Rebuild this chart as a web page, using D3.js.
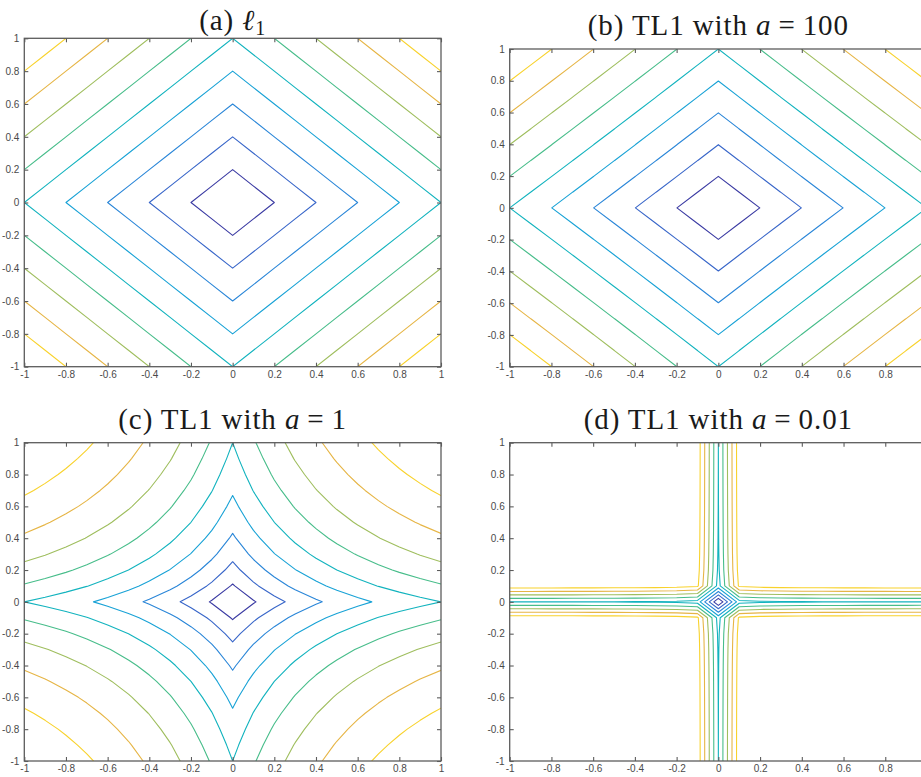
<!DOCTYPE html>
<html>
<head>
<meta charset="utf-8">
<script src="https://cdn.jsdelivr.net/npm/d3@7"></script>
<style>
  body { margin: 0; background: #fff; }
  svg { display: block; }
</style>
</head>
<body>
<div id="chart"></div>
<script>
// contour levels (same for every panel)
const levels = [0.2, 0.4, 0.6, 0.8, 1.0, 1.2, 1.4, 1.6, 1.8];
// parameter a of each panel, null = plain l1 norm
const a_values = [null, 100, 1, 0.01];
const panel_letters = ["a", "b", "c", "d"];
const a_labels = ["", "100", "1", "0.01"];
// sample points of the grid the contours are taken from
const grid_points = [-1, -0.9, -0.8, -0.7, -0.6, -0.5, -0.4, -0.3, -0.2, -0.1, 0,
                     0.1, 0.2, 0.3, 0.4, 0.5, 0.6, 0.7, 0.8, 0.9, 1];
const tick_values = [-1, -0.8, -0.6, -0.4, -0.2, 0, 0.2, 0.4, 0.6, 0.8, 1];
const tick_labels = ["-1", "-0.8", "-0.6", "-0.4", "-0.2", "0", "0.2", "0.4", "0.6", "0.8", "1"];

// parula-like colours, one per level
const level_colors = ["#3b3ba3", "#3866c9", "#2a86d8", "#18a2d6", "#12b3be",
                      "#47bd8a", "#9fbe5e", "#e6b545", "#f8d22c"];

function drawChart() {
    const div_id = "#chart";
    const width = 921, height = 777;

    let svg = d3.select(div_id)
        .append("svg")
        .attr("width", width)
        .attr("height", height);

    // axes boxes in pixels (right column runs past the page edge)
    const boxes = [
        {left: 24.3, right: 441, top: 38.3, bottom: 366.7, title_y: 30},
        {left: 509.7, right: 927, top: 49, bottom: 366.7, title_y: 35},
        {left: 24.3, right: 441, top: 442.7, bottom: 761, title_y: 429},
        {left: 509.7, right: 927, top: 442.7, bottom: 761, title_y: 429}
    ];

    let penalty = function (a, t) {
        t = Math.abs(t);
        if (a === null) return t;
        return (a + 1) * t / (a + t);
    }

    const n = grid_points.length;

    a_values.forEach(function (a, k) {
        const box = boxes[k];
        let x = d3.scaleLinear().domain([-1, 1]).range([box.left, box.right]);
        let y = d3.scaleLinear().domain([-1, 1]).range([box.bottom, box.top]);
        // d3.contours puts value i at coordinate i + 0.5
        let gx = d3.scaleLinear().domain([0.5, n - 0.5]).range([grid_points[0], grid_points[n - 1]]);

        let values = new Array(n * n);
        for (let j = 0; j < n; j++) {
            for (let i = 0; i < n; i++) {
                values[j * n + i] = penalty(a, grid_points[i]) + penalty(a, grid_points[j]);
            }
        }

        let contours = d3.contours()
            .size([n, n])
            .thresholds(levels)(values);

        let path = d3.geoPath(d3.geoTransform({
            point: function (px, py) {
                this.stream.point(x(gx(px)), y(gx(py)));
            }
        }));

        let g = svg.append("g");

        g.append("clipPath")
            .attr("id", "clip_" + k)
            .append("rect")
            .attr("x", box.left)
            .attr("y", box.top)
            .attr("width", box.right - box.left)
            .attr("height", box.bottom - box.top);

        g.append("g")
            .attr("clip-path", "url(#clip_" + k + ")")
            .selectAll("path")
            .data(contours)
            .join("path")
            .attr("d", path)
            .attr("fill", "none")
            .attr("stroke", (d, i) => level_colors[i])
            .attr("stroke-width", 1.1)
            .attr("stroke-linejoin", "round");

        // frame
        g.append("rect")
            .attr("x", box.left)
            .attr("y", box.top)
            .attr("width", box.right - box.left)
            .attr("height", box.bottom - box.top)
            .attr("fill", "none")
            .attr("stroke", "#5c5c5c")
            .attr("stroke-width", 1.3);

        // inward ticks on all four sides
        let axis_style = function (sel) {
            sel.select(".domain").remove();
            sel.selectAll(".tick line").attr("stroke", "#5c5c5c").attr("stroke-width", 1.1);
            sel.selectAll(".tick text")
                .attr("fill", "#4a4a4a")
                .style("font-family", "'Liberation Sans', Arial, sans-serif")
                .style("font-size", "10px");
        }
        let fmt = (d, i) => tick_labels[i];

        g.append("g")
            .attr("transform", "translate(0," + box.bottom + ")")
            .call(d3.axisBottom(x).tickValues(tick_values).tickFormat(fmt).tickSize(-4).tickPadding(4))
            .call(axis_style)
            // labels past the page edge are not visible anyway
            .selectAll(".tick text")
            .filter(d => x(d) > width - 2)
            .remove();
        g.append("g")
            .attr("transform", "translate(0," + box.top + ")")
            .call(d3.axisTop(x).tickValues(tick_values).tickFormat("").tickSize(-4))
            .call(axis_style);
        g.append("g")
            .attr("transform", "translate(" + box.left + ",0)")
            .call(d3.axisLeft(y).tickValues(tick_values).tickFormat(fmt).tickSize(-4).tickPadding(5))
            .call(axis_style);
        g.append("g")
            .attr("transform", "translate(" + box.right + ",0)")
            .call(d3.axisRight(y).tickValues(tick_values).tickFormat("").tickSize(-4))
            .call(axis_style);

        // title
        let title = g.append("text")
            .attr("x", (box.left + box.right) / 2)
            .attr("y", box.title_y)
            .attr("text-anchor", "middle")
            .attr("fill", "#1a1a1a")
            .style("font-family", "'Liberation Serif', 'Times New Roman', serif")
            .style("font-size", "29px")
            .style("letter-spacing", "0.9px");

        title.append("tspan").text("(" + panel_letters[k] + ") ");
        if (a === null) {
            title.append("tspan").style("font-style", "italic").text("\u2113");
            title.append("tspan").attr("dy", 5).style("font-size", "20px").text("1");
        } else {
            title.append("tspan").text("TL1 with ");
            title.append("tspan").style("font-style", "italic").text("a");
            title.append("tspan").attr("dx", 7).text("=");
            title.append("tspan").attr("dx", 7).text(a_labels[k]);
        }
    });
}
drawChart();
</script>
</body>
</html>
